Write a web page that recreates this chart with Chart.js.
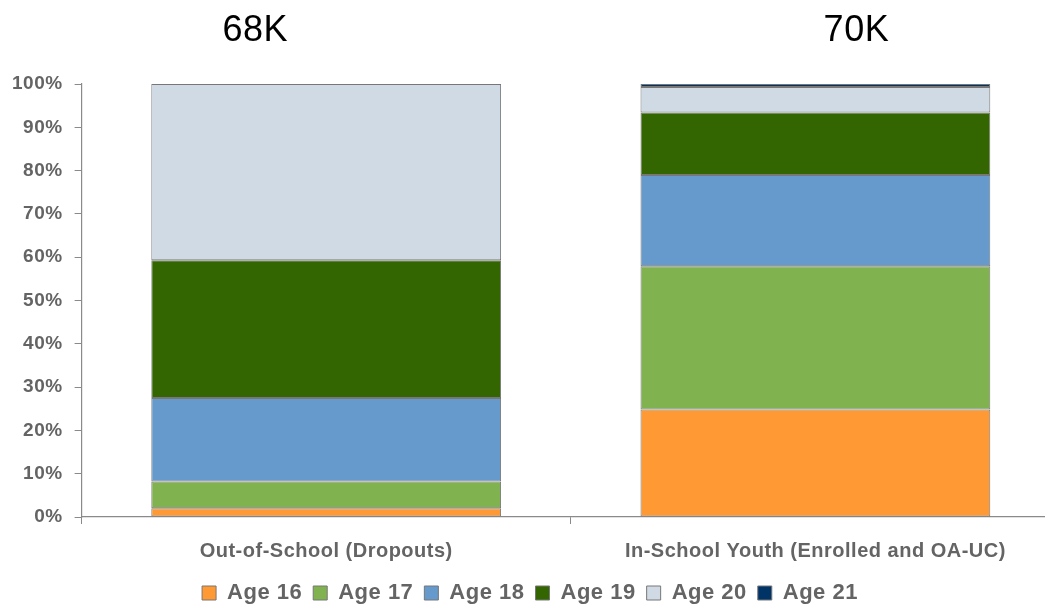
<!DOCTYPE html>
<html>
<head>
<meta charset="utf-8">
<script src="https://cdn.jsdelivr.net/npm/chart.js@4.4.1/dist/chart.umd.min.js"></script>
<style>
  html, body { margin: 0; padding: 0; background: #fff; overflow: hidden; }
  #wrap { width: 1045px; height: 605px; overflow: hidden; position: relative; }
</style>
</head>
<body>
<div id="wrap"><canvas id="c" width="1060" height="625"></canvas></div>
<script>
// Youth population by age, share of each group (%)
const categories = ['Out-of-School (Dropouts)', 'In-School Youth (Enrolled and OA-UC)'];
const totals = ['68K', '70K'];
const age16 = [2.0, 24.8];
const age17 = [6.2, 33.1];
const age18 = [19.3, 21.1];
const age19 = [31.8, 14.4];
const age20 = [40.7, 5.9];
const age21 = [0.0, 0.7];
const yTicks = [0, 10, 20, 30, 40, 50, 60, 70, 80, 90, 100];

const series = [
  { label: 'Age 16', data: age16, color: '#FF9933' },
  { label: 'Age 17', data: age17, color: '#80B24F' },
  { label: 'Age 18', data: age18, color: '#6699CC' },
  { label: 'Age 19', data: age19, color: '#336600' },
  { label: 'Age 20', data: age20, color: '#D0DAE5' },
  { label: 'Age 21', data: age21, color: '#003366' }
];

const grey = '#646464';
const fontFamily = '"Liberation Sans", Arial, sans-serif';
const spacing = '0.5px';

// Slightly spaced lettering for all canvas text
const spacingPlugin = {
  id: 'spacing',
  beforeInit(chart) { chart.ctx.letterSpacing = spacing; },
  beforeUpdate(chart) { chart.ctx.letterSpacing = spacing; },
  beforeLayout(chart) { chart.ctx.letterSpacing = spacing; },
  beforeDraw(chart) { chart.ctx.letterSpacing = spacing; }
};

// Group totals written above each bar
const totalsPlugin = {
  id: 'totals',
  afterDraw(chart) {
    const ctx = chart.ctx;
    const x = chart.scales.x;
    const shifts = [-71, 41];
    ctx.save();
    ctx.font = '36px ' + fontFamily;
    ctx.fillStyle = '#000';
    ctx.textAlign = 'center';
    ctx.textBaseline = 'middle';
    totals.forEach((t, i) => {
      ctx.fillText(t, x.getPixelForValue(i) + shifts[i], 31);
    });
    ctx.restore();
  }
};

new Chart(document.getElementById('c'), {
  type: 'bar',
  data: {
    labels: categories,
    datasets: series.map(s => ({
      label: s.label,
      data: s.data,
      backgroundColor: s.color,
      borderColor: '#777777',
      borderWidth: 1,
      borderSkipped: false,
      categoryPercentage: 1.0,
      barPercentage: 0.715
    }))
  },
  options: {
    responsive: false,
    animation: false,
    layout: { padding: { top: 84, left: 0, right: 0, bottom: 11 } },
    plugins: {
      legend: {
        position: 'bottom',
        labels: {
          boxWidth: 14,
          boxHeight: 14,
          padding: 11,
          color: grey,
          font: { family: fontFamily, size: 22, weight: 'bold' }
        }
      },
      tooltip: { enabled: false }
    },
    scales: {
      x: {
        stacked: true,
        afterFit(axis) { axis.height -= 7; },
        grid: { drawOnChartArea: false, drawTicks: true, tickLength: 7, color: '#8a8a8a', offset: true },
        border: { display: true, color: '#8a8a8a', width: 1.2 },
        ticks: {
          color: grey,
          padding: 15,
          maxRotation: 0,
          font: { family: fontFamily, size: 20, weight: 'bold' }
        }
      },
      y: {
        stacked: true,
        min: 0,
        max: 100,
        afterBuildTicks(axis) { axis.ticks = yTicks.map(v => ({ value: v })); },
        grid: { drawOnChartArea: false, drawTicks: true, tickLength: 7, color: '#8a8a8a' },
        border: { display: true, color: '#8a8a8a', width: 1.2 },
        ticks: {
          color: grey,
          padding: 12,
          callback: v => v + '%',
          font: { family: fontFamily, size: 19, weight: 'bold' }
        }
      }
    }
  },
  plugins: [spacingPlugin, totalsPlugin]
});
</script>
</body>
</html>
